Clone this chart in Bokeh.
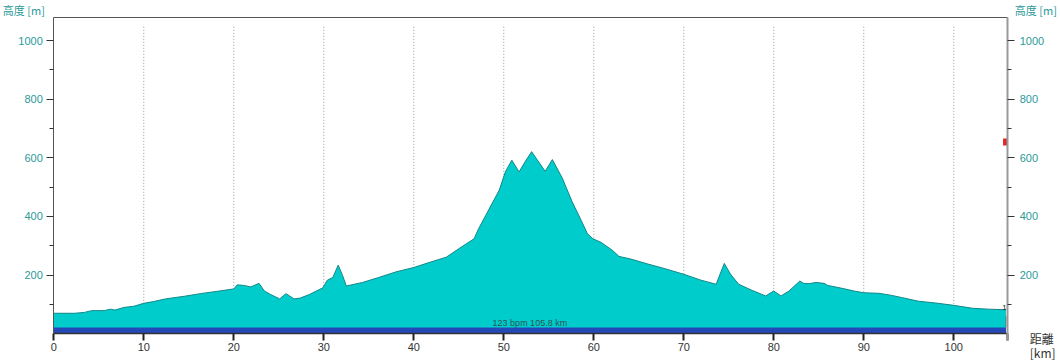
from bokeh.plotting import figure
from bokeh.models import Range1d, LinearAxis, FixedTicker, Label
from bokeh.embed import file_html
from bokeh.resources import INLINE
from bokeh.core.properties import value

# ---- data ----
dist_km = [0, 2.3, 3.4, 4.2, 5.6, 6.3, 6.8, 7.8, 8.9, 10, 11.1, 12.4, 14.5, 16.3, 18.2,
           20, 20.4, 21.1, 21.9, 22.8, 23.4, 24.1, 25.1, 25.8, 26.7, 27.4, 28.4, 29.9,
           30.4, 31, 31.6, 32.1, 32.5, 34.3, 36.1, 38, 40, 41.7, 43.6, 45, 46.7, 47.2,
           48, 49.5, 50.2, 50.9, 51.7, 52.4, 53.1, 53.7, 54.6, 55.4, 56.5, 57.6, 58.6,
           59.3, 59.9, 60.8, 62.1, 62.8, 64.1, 66, 67.8, 70, 71.9, 73.6, 74.5, 75.2,
           76.1, 77.6, 79.1, 80, 80.8, 81.7, 82.9, 83.3, 83.9, 84.7, 85.6, 86, 87.6,
           88.9, 90, 91.7, 93.1, 94.3, 96.1, 98, 100, 102.1, 103.9, 105.8]
elev_m = [70, 70, 73, 79, 79, 84, 81, 90, 94, 104, 110, 119, 128, 137, 145,
          153, 167, 165, 160, 172, 146, 134, 119, 137, 119, 122, 134, 157,
          183, 192, 234, 198, 163, 175, 192, 211, 226, 243, 261, 290, 324, 358,
          404, 490, 554, 592, 552, 588, 621, 594, 554, 594, 531, 450, 387,
          341, 324, 312, 284, 264, 255, 238, 223, 203, 183, 169, 240, 203,
          169, 148, 129, 146, 129, 146, 180, 172, 171, 175, 172, 165, 155,
          146, 140, 138, 131, 123, 111, 105, 97, 87, 84, 82]
x_ticks = [0, 10, 20, 30, 40, 50, 60, 70, 80, 90, 100]
grid_ticks = [10, 20, 30, 40, 50, 60, 70, 80, 90, 100]
y_ticks = [200, 400, 600, 800, 1000]
y_minor = [100, 300, 500, 700, 900]
summary_text = "123 bpm 105.8 km"
total_km = 105.8
marker_km = 105.7
marker_elev = 654
lap_marker_top = 60
band_top = 21.5
x_max = 106          # right edge of the chart area
y_top = 1078         # top edge of the chart area
grid_top = 1050

# the frame covers the whole canvas; the chart box lives inside it
X_RANGE = (-5.92, 111.86)
Y_RANGE = (-91.0, 1136.4)

TEAL = "#2a9a9a"
DARK = "#333333"

p = figure(width=1060, height=360, x_range=Range1d(*X_RANGE), y_range=Range1d(*Y_RANGE),
           output_backend="svg", toolbar_location=None, min_border=0)
p.background_fill_color = "white"
p.border_fill_color = "white"
p.outline_line_color = None
p.xgrid.visible = False
p.ygrid.visible = False

# dotted vertical grid
p.segment(x0=grid_ticks, y0=0, x1=grid_ticks, y1=grid_top, line_color="#999999",
          line_dash="1 2", line_width=1)

# profile
p.varea(x=dist_km, y1=0, y2=elev_m, fill_color="#00cccc")
p.line(x=dist_km, y=elev_m, line_color="#118888", line_width=1)
p.quad(left=[0], right=[total_km], bottom=[0], top=[band_top], fill_color="#2448b8", line_color=None)
p.segment(x0=[total_km], y0=[band_top], x1=[total_km], y1=[lap_marker_top], line_color="#557777", line_width=1)
p.text(x=[total_km / 2], y=[band_top], text=[summary_text], text_align="center", text_baseline="bottom",
       text_font=value("Liberation Sans"), text_font_size="9px", text_color="#2d5555")
p.text(x=[total_km], y=[elev_m[-1]], text=["1"], text_align="center", text_baseline="bottom",
       text_font=value("Liberation Sans"), text_font_size="8px", text_color="#222222", x_offset=-1.5)
p.rect(x=[marker_km], y=[marker_elev], width=4, height=7, width_units="screen", height_units="screen",
       fill_color="#e02828", line_color=None)

# axes (fixed at the chart box edges)
def style_y(ax, line_color, line_width, standoff):
    ax.ticker = FixedTicker(ticks=y_ticks, minor_ticks=y_minor)
    ax.major_label_text_color = TEAL
    ax.major_label_text_font = "Liberation Sans"
    ax.major_label_text_font_size = "11px"
    ax.major_label_standoff = standoff
    ax.major_tick_in = 0
    ax.major_tick_out = 7
    ax.minor_tick_in = 0
    ax.minor_tick_out = 4
    ax.major_tick_line_color = DARK
    ax.minor_tick_line_color = DARK
    ax.axis_line_color = line_color
    ax.axis_line_width = line_width

ya = p.yaxis[0]
style_y(ya, "#555555", 1, 4)
ya.fixed_location = 0
ya.bounds = (0, y_top)

right_axis = LinearAxis(fixed_location=x_max, bounds=(-24, y_top))
style_y(right_axis, "#999999", 2, 5)
p.add_layout(right_axis, "right")

xa = p.xaxis[0]
xa.fixed_location = 0
xa.bounds = (0, x_max)
xa.ticker = FixedTicker(ticks=x_ticks + [x_max], minor_ticks=[])
xa.major_label_overrides = {x_max: ""}
xa.major_label_text_color = DARK
xa.major_label_text_font = "Liberation Sans"
xa.major_label_text_font_size = "11px"
xa.major_label_standoff = 2
xa.major_tick_in = 0
xa.major_tick_out = 7
xa.major_tick_line_color = "#222222"
xa.major_tick_line_width = 2
xa.axis_line_color = "#333333"
xa.axis_line_width = 1.5

top_axis = LinearAxis(fixed_location=y_top, bounds=(0, x_max), ticker=FixedTicker(ticks=[], minor_ticks=[]),
                      axis_line_color="#555555", major_tick_line_color=None, minor_tick_line_color=None,
                      major_label_text_font_size="0px")
p.add_layout(top_axis, "above")

# titles
cjk = "Noto Sans CJK JP"
p.add_layout(Label(x=0, y=y_top, x_offset=-51, y_offset=8, text="高度 [m]", text_align="left",
                   text_baseline="middle", text_font=cjk, text_font_size="11px", text_color=TEAL))
p.add_layout(Label(x=x_max, y=y_top, x_offset=7, y_offset=8, text="高度 [m]", text_align="left",
                   text_baseline="middle", text_font=cjk, text_font_size="11px", text_color=TEAL))
p.add_layout(Label(x=x_max, y=0, x_offset=22, y_offset=-5, text="距離", text_align="left",
                   text_baseline="middle", text_font=cjk, text_font_size="12px", text_color=DARK))
p.add_layout(Label(x=x_max, y=0, x_offset=22, y_offset=-19, text="[km]", text_align="left",
                   text_baseline="middle", text_font=cjk, text_font_size="12px", text_color=DARK))

open("out.html", "w").write(file_html(p, INLINE))
